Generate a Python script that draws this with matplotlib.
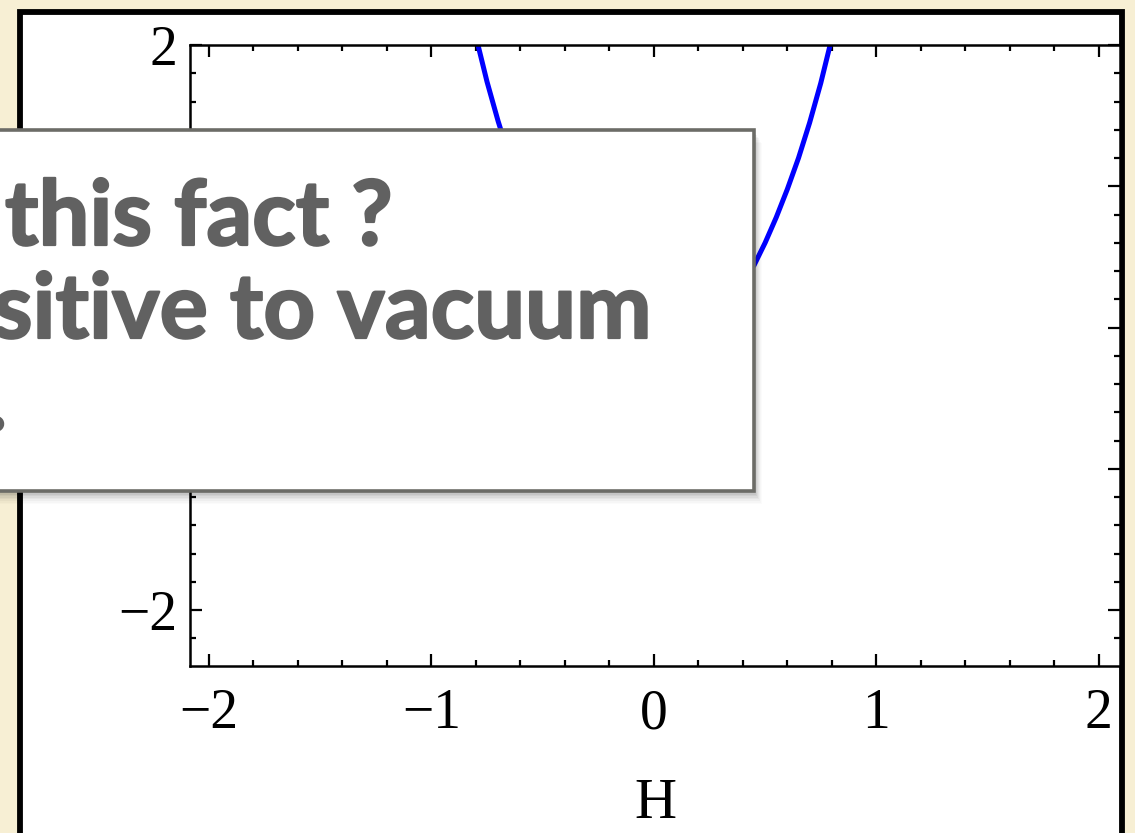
import matplotlib
matplotlib.use("Agg")
import matplotlib.pyplot as plt
import matplotlib.patheffects as pe
from matplotlib.patches import Rectangle
from matplotlib.ticker import MultipleLocator

# Potential curve V(H), sampled points
H_vals = [-0.82, -0.80, -0.75, -0.70, -0.65, -0.60, -0.55, -0.50, -0.45,
          -0.30, -0.15, 0.0, 0.15, 0.30,
          0.45, 0.50, 0.55, 0.60, 0.65, 0.70, 0.75, 0.80, 0.82]
V_vals = [2.20, 2.06, 1.74, 1.46, 1.21, 0.99, 0.79, 0.61, 0.45,
          0.17, 0.04, 0.0, 0.04, 0.17,
          0.44, 0.60, 0.78, 0.98, 1.20, 1.45, 1.73, 2.05, 2.19]

x_ticks = [-2, -1, 0, 1, 2]
y_ticks = [-2, -1, 0, 1, 2]
x_label = "H"

overlay_lines = [
    "How can we understand this fact ?",
    "Is the Higgs mass sensitive to vacuum",
    "stability.",
]

W, Hpx = 1135, 833
fig = plt.figure(figsize=(W / 100, Hpx / 100), dpi=100)
fig.patch.set_facecolor("#f7efd4")

def fx(px):
    return px / W

def fy(py):
    return 1 - py / Hpx

# white slide panel with heavy black frame
panel = Rectangle((fx(20), fy(900)), fx(1122) - fx(20), fy(12) - fy(900),
                  transform=fig.transFigure, facecolor="white",
                  edgecolor="black", linewidth=4.2, zorder=-2)
fig.patches.append(panel)

ax = fig.add_axes([fx(190), fy(666), fx(1120) - fx(190), fy(45) - fy(666)])
ax.set_facecolor("white")
ax.plot(H_vals, V_vals, color="#0000ff", linewidth=3.6,
        solid_joinstyle="round", solid_capstyle="butt")
ax.set_xlim(-2.085, 2.095)
ax.set_ylim(-2.396, 2.0)

ax.set_xticks(x_ticks)
ax.set_yticks(y_ticks)
ax.xaxis.set_minor_locator(MultipleLocator(0.2))
ax.yaxis.set_minor_locator(MultipleLocator(0.2))
ax.tick_params(which="both", direction="in", top=True, right=True, width=1.6)
ax.tick_params(which="major", length=8.5)
ax.tick_params(which="minor", length=4.5)
ax.tick_params(axis="x", which="major", pad=16)
ax.tick_params(axis="y", which="major", pad=9)
for spine in ax.spines.values():
    spine.set_linewidth(1.8)

serif = ["Liberation Serif", "DejaVu Serif"]
for lbl in ax.get_xticklabels() + ax.get_yticklabels():
    lbl.set_fontfamily(serif)
    lbl.set_fontsize(40)
ax.set_xlabel(x_label, fontfamily=serif, fontsize=42, labelpad=27)

# callout box with soft drop shadow
bx0, by0, bx1, by1 = -20, 130, 754, 491
for i, a in enumerate([0.05, 0.05, 0.045, 0.04, 0.035, 0.03, 0.02, 0.015]):
    off = 2 + i * 1.6
    sh = Rectangle((fx(bx0 + off * 0.6), fy(by1 + off)), fx(bx1) - fx(bx0),
                   fy(by0) - fy(by1), transform=fig.transFigure,
                   facecolor="black", edgecolor="none", alpha=a, zorder=4)
    fig.patches.append(sh)
box = Rectangle((fx(bx0), fy(by1)), fx(bx1) - fx(bx0), fy(by0) - fy(by1),
                transform=fig.transFigure, facecolor="white",
                edgecolor="#6c6c67", linewidth=2.6, zorder=5)
fig.patches.append(box)

text_color = "#616161"
line_right = [392, 651, 7]
line_base = [245, 338, 430]
for txt, xr, yb in zip(overlay_lines, line_right, line_base):
    fig.text(fx(xr), fy(yb), txt, ha="right", va="baseline",
             fontfamily=["Lato", "DejaVu Sans"], fontweight="bold",
             fontsize=65, color=text_color, zorder=6,
             path_effects=[pe.withStroke(linewidth=1.6, foreground=text_color)])

fig.savefig("out.png", dpi=100, facecolor=fig.get_facecolor())
